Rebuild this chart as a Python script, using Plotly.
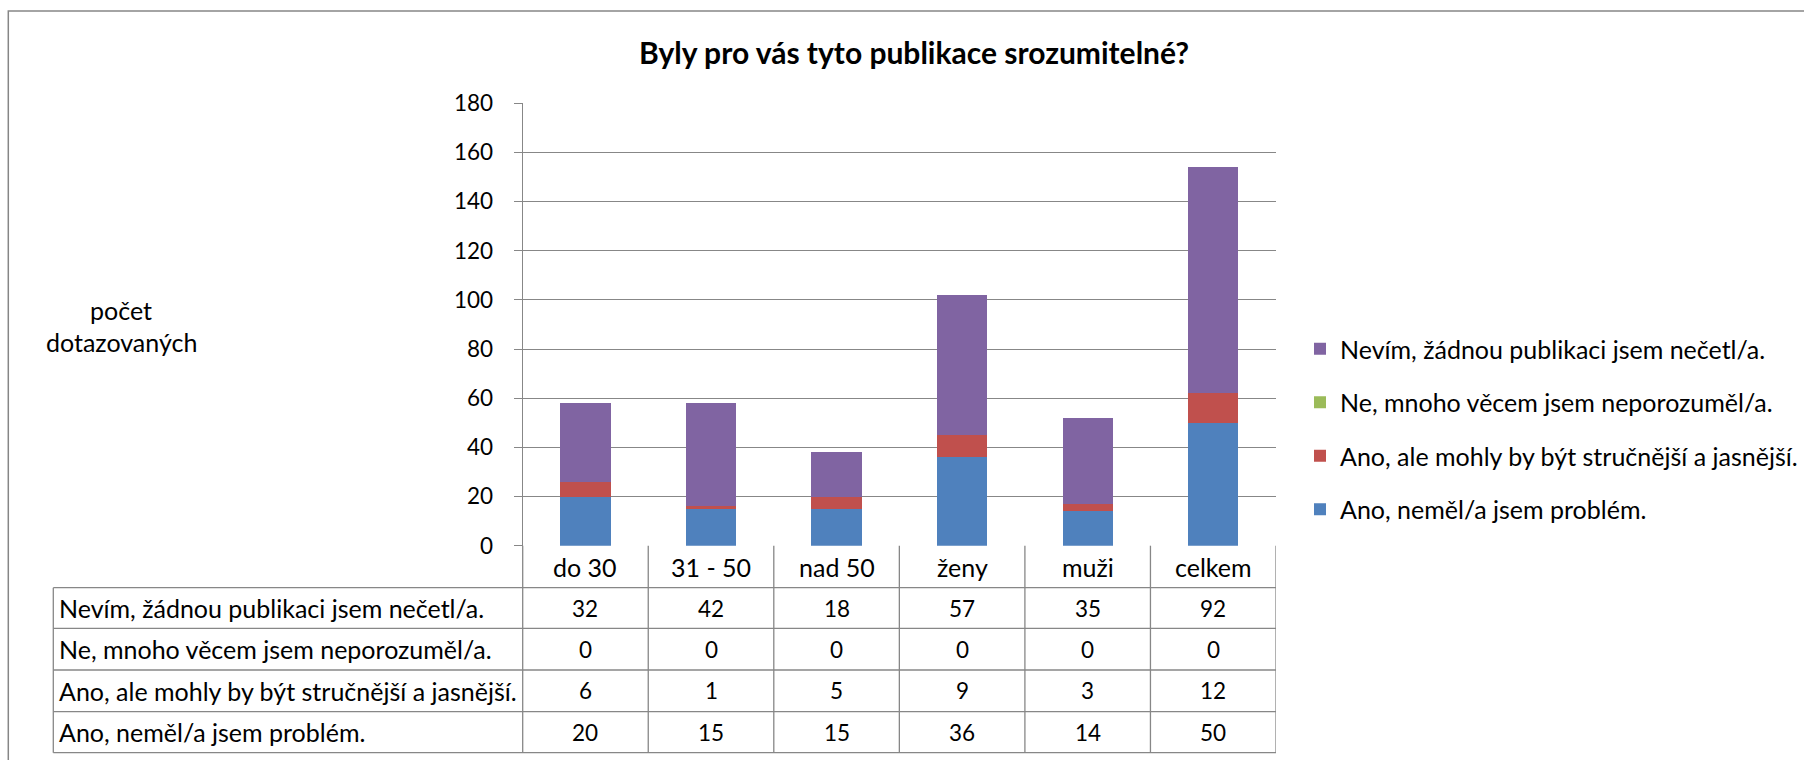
import plotly.graph_objects as go

# ---------------- data ----------------
categories = ["do 30", "31 - 50", "nad 50", "ženy", "muži", "celkem"]

series_names = [
    "Ano, neměl/a jsem problém.",
    "Ano, ale mohly by být stručnější a jasnější.",
    "Ne, mnoho věcem jsem neporozuměl/a.",
    "Nevím, žádnou publikaci jsem nečetl/a.",
]
ano_nemel = [20, 15, 15, 36, 14, 50]
ano_ale = [6, 1, 5, 9, 3, 12]
ne_mnoho = [0, 0, 0, 0, 0, 0]
nevim = [32, 42, 18, 57, 35, 92]
series_values = [ano_nemel, ano_ale, ne_mnoho, nevim]
series_colors = ["#4F81BD", "#C0504D", "#9BBB59", "#8064A2"]
legend_ranks = [4, 3, 2, 1]

title_text = "Byly pro vás tyto publikace srozumitelné?"
y_title_lines = ["počet", "dotazovaných"]
y_ticks = [0, 20, 40, 60, 80, 100, 120, 140, 160, 180]

# ---------------- layout helpers ----------------
W, H = 1804, 760
FONT = "Lato"
GRID = "#878787"
FS_TEXT = 25
FS_NUM = 22.5


def px(x):
    return x / W


def py(y):
    return 1 - y / H


plot_left, plot_right = 522.7, 1276.0
plot_top, plot_bottom = 103.3, 545.7
table_left = 53.3
row_lines = [587.7, 628.3, 670.0, 711.7, 752.7]
header_center = (plot_bottom + row_lines[0]) / 2

fig = go.Figure()
for name, vals, col, rk in zip(series_names, series_values, series_colors, legend_ranks):
    fig.add_trace(go.Bar(
        x=categories, y=vals, name=name, legendgroup=name, legendrank=rk,
        marker=dict(color=col, line=dict(width=0)),
        width=0.4,
    ))

annotations = []
shapes = []

# title
annotations.append(dict(
    text="<b>" + title_text + "</b>", x=px(914), y=py(52), xref="paper", yref="paper",
    showarrow=False, xanchor="center", yanchor="middle",
    font=dict(family=FONT, size=30, color="black"),
))
# y axis title
for line, yy in zip(y_title_lines, [310, 341.7]):
    annotations.append(dict(
        text=line, x=px(121), y=py(yy), xref="paper", yref="paper",
        showarrow=False, xanchor="center", yanchor="middle",
        font=dict(family=FONT, size=FS_TEXT, color="black"),
    ))

# data table: header row (category names)
for c in categories:
    annotations.append(dict(
        text=c, x=c, y=py(header_center), xref="x", yref="paper",
        showarrow=False, xanchor="center", yanchor="middle",
        font=dict(family=FONT, size=FS_TEXT, color="black"),
    ))

# table rows: top-to-bottom = legend order (reverse of stacking)
table_rows = list(zip(series_names, series_values))[::-1]
for i, (name, vals) in enumerate(table_rows):
    yc = (row_lines[i] + row_lines[i + 1]) / 2
    annotations.append(dict(
        text=name, x=px(table_left + 4), y=py(yc), xref="paper", yref="paper",
        showarrow=False, xanchor="left", yanchor="middle",
        font=dict(family=FONT, size=FS_TEXT, color="black"),
    ))
    for c, v in zip(categories, vals):
        annotations.append(dict(
            text=str(v), x=c, y=py(yc), xref="x", yref="paper",
            showarrow=False, xanchor="center", yanchor="middle",
            font=dict(family=FONT, size=FS_NUM, color="black"),
        ))

line_style = dict(color=GRID, width=1.3)
# horizontal table lines
for yy in row_lines:
    shapes.append(dict(type="line", xref="paper", yref="paper",
                       x0=px(table_left), x1=px(plot_right), y0=py(yy), y1=py(yy),
                       line=line_style))
# left table border
shapes.append(dict(type="line", xref="paper", yref="paper",
                   x0=px(table_left), x1=px(table_left), y0=py(row_lines[0]), y1=py(row_lines[-1]),
                   line=line_style))
# axis extension into table
shapes.append(dict(type="line", xref="paper", yref="paper",
                   x0=px(plot_left), x1=px(plot_left), y0=py(plot_bottom), y1=py(row_lines[-1]),
                   line=line_style))
# category boundaries
for i in range(len(categories)):
    shapes.append(dict(type="line", xref="x", yref="paper",
                       x0=i + 0.5, x1=i + 0.5, y0=py(plot_bottom), y1=py(row_lines[-1]),
                       line=line_style))
# outer chart frame
shapes.append(dict(type="rect", xref="paper", yref="paper",
                   x0=px(8.3), x1=1.02, y0=py(11), y1=-0.02,
                   line=dict(color="#868686", width=1.5), fillcolor="rgba(0,0,0,0)",
                   layer="below"))

fig.update_layout(
    width=W, height=H, autosize=False,
    margin=dict(l=0, r=0, t=0, b=0, pad=0),
    paper_bgcolor="white", plot_bgcolor="white",
    barmode="stack", bargap=0.6,
    font=dict(family=FONT, size=FS_TEXT, color="black"),
    showlegend=True,
    legend=dict(
        x=px(1300), y=py(326), xanchor="left", yanchor="top",
        traceorder="grouped", tracegroupgap=18,
        font=dict(family=FONT, size=FS_TEXT, color="black"),
        bgcolor="rgba(0,0,0,0)",
    ),
    xaxis=dict(
        domain=[px(plot_left), px(plot_right)],
        type="category", range=[-0.5, len(categories) - 0.5],
        showticklabels=False, ticks="", showgrid=False,
        showline=False, zeroline=False, automargin=False,
    ),
    yaxis=dict(
        domain=[py(plot_bottom), py(plot_top)],
        range=[0, 180], tickvals=y_ticks,
        showgrid=True, gridcolor=GRID, gridwidth=1.3,
        showline=True, linecolor=GRID, linewidth=1.3,
        ticks="outside", ticklen=8, tickcolor=GRID, tickwidth=1.3,
        ticklabelstandoff=16,
        tickfont=dict(family=FONT, size=FS_NUM, color="black"),
        zeroline=False, automargin=False,
    ),
    annotations=annotations,
    shapes=shapes,
)

fig.write_html(
    "out.html",
    config={"displayModeBar": False},
    post_script="document.body.style.margin='0';document.body.style.overflow='hidden';",
)
